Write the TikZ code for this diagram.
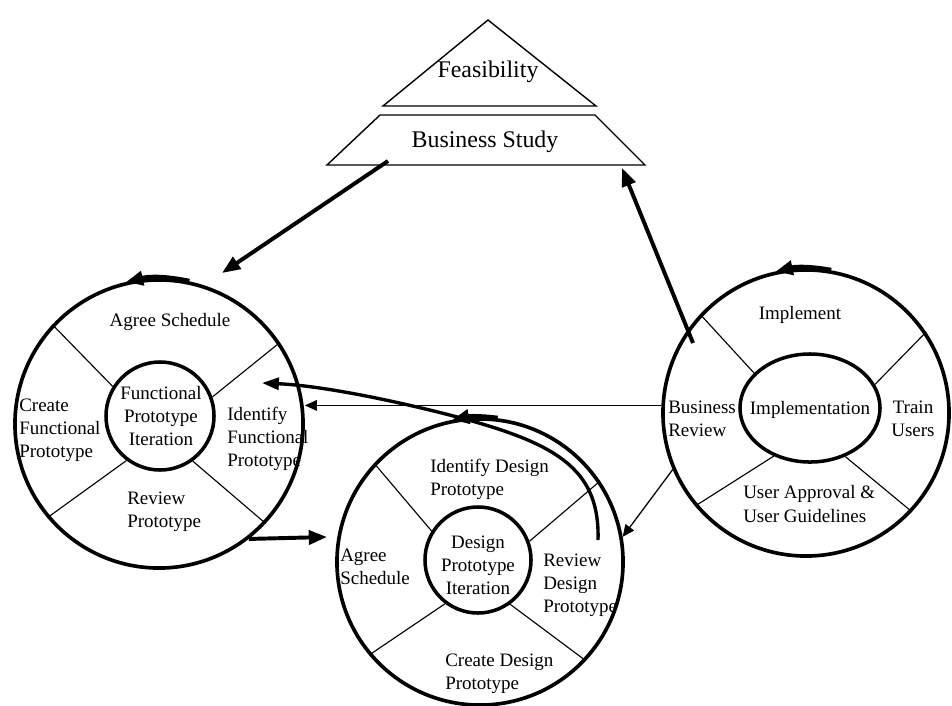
\documentclass[tikz,border=0pt]{standalone}
\usepackage{fontspec}
\setmainfont{Liberation Serif}
\usetikzlibrary{arrows.meta,shapes.geometric}
\newcommand{\cyclefont}{\fontsize{13.5}{16.5}\selectfont}
\newcommand{\stagefont}{\fontsize{17}{20}\selectfont}
\begin{document}
\begin{tikzpicture}[x=0.025cm,y=-0.025cm,
  ring/.style={circle,draw,line width=2.6pt,inner sep=0pt,minimum size=#1},
  hub/.style={circle,draw,line width=2.5pt,inner sep=0pt,minimum size=#1},
  txt/.style={inner sep=0pt,font=\cyclefont,align=left},
  ctxt/.style={inner sep=0pt,font=\cyclefont,align=center},
  divider/.style={line width=0.8pt},
  stage/.style={line width=1pt},
  heavy/.style={line width=2.8pt,-{Triangle[length=13pt,width=10pt]}},
  curved/.style={line width=2.4pt,-{Triangle[length=12pt,width=8.5pt]}},
  light/.style={line width=0.9pt,-{Triangle[length=8.5pt,width=7.5pt]}},
  spin/.style={line width=3.6pt,-{Triangle[length=12pt,width=10pt]}},
]
\fill[white] (0,0) rectangle (952,705);
\useasboundingbox (0,0) rectangle (952,705);

% Feasibility and business study stages
\draw[stage] (488,20) -- (383,106) -- (596,106) -- cycle;
\draw[stage] (380,115) -- (595,115) -- (645,165) -- (327,165) -- cycle;
\node[inner sep=0pt,font=\stagefont] (feas) at (488,72) {Feasibility};
\node[inner sep=0pt,font=\stagefont] (bstudy) at (485,142) {Business Study};
\coordinate (bsL) at (388,161);
\coordinate (bsR) at (622,168);

% Functional prototype cycle
\node[ring=7.2cm] (lc) at (159,424) {};
\node[hub=2.7cm] (lci) at (160,416) {};
% Design prototype cycle
\node[ring=7.15cm] (mc) at (480,562) {};
\node[hub=2.65cm] (mci) at (478,560) {};
% Implementation cycle
\node[ring=7.15cm] (rc) at (806,413) {};
\node[draw,ellipse,line width=2.5pt,inner sep=0pt,minimum width=3.5cm,minimum height=2.7cm] (rci) at (810,408) {};

% Quadrant dividers
\foreach \o/\i in {137/148, 34/20, 220/233, 317/306} {
  \draw[divider] (lc.\o) -- (lci.\i);
  \draw[divider] (mc.\o) -- (mci.\i);
  \draw[divider] (rc.\o) -- (rci.\i);
}

% Direction of each cycle
\draw[spin] (lc.78) to[bend right=12] (lc.103);
\draw[spin] (mc.83) to[bend right=9] (mc.101);
\draw[spin] (rc.80) to[bend right=11] (rc.102);

% Labels: functional prototype cycle
\node[ctxt] (lAgree) at (170,322) {Agree Schedule};
\node[txt,anchor=west] (lCreate) at (19,430) {Create\\Functional\\Prototype};
\node[ctxt] (lHub) at (161,416) {Functional\\Prototype\\Iteration};
\node[txt,anchor=west] (lIdent) at (227,439) {Identify\\Functional\\Prototype};
\node[txt,anchor=west] (lReview) at (127,512) {Review\\Prototype};

% Labels: design prototype cycle
\node[txt,anchor=west] (mIdent) at (430,479) {Identify Design\\Prototype};
\node[ctxt] (mHub) at (478,565) {Design\\Prototype\\Iteration};
\node[txt,anchor=west] (mAgree) at (340,567) {Agree\\Schedule};
\node[txt,anchor=west] (mReview) at (543,585) {Review\\Design\\Prototype};
\node[txt,anchor=west] (mCreate) at (445,674) {Create Design\\Prototype};

% Labels: implementation cycle
\node[ctxt] (rImpl) at (800,315) {Implement};
\node[txt,anchor=west] (rBiz) at (668,419) {Business\\Review};
\node[ctxt] (rHub) at (810,410) {Implementation};
\node[ctxt] (rTrain) at (913,419) {Train\\Users};
\node[txt,anchor=west] (rUser) at (743,504) {User Approval \&\\User Guidelines};

% Connections between stages
\coordinate (lcIn) at (222,273);
\coordinate (rcTail) at (693,343);
\coordinate (mcIn) at (327,537);
\coordinate (rdTail) at (598,540);
\coordinate (ifTip) at (262,383);

\draw[heavy] (bsL) -- (lcIn);
\draw[heavy] (rcTail) -- (bsR);
\draw[heavy] (lc.308) -- (mcIn);
\draw[light] (rc.177) -- (rc.177 -| lc.east);
\draw[light] (rc.203) -- (mc.10);
\draw[curved] (rdTail) .. controls (600,472) and (560,446) .. (472,421)
  .. controls (422,407) and (330,386) .. (ifTip);
\end{tikzpicture}
\end{document}
